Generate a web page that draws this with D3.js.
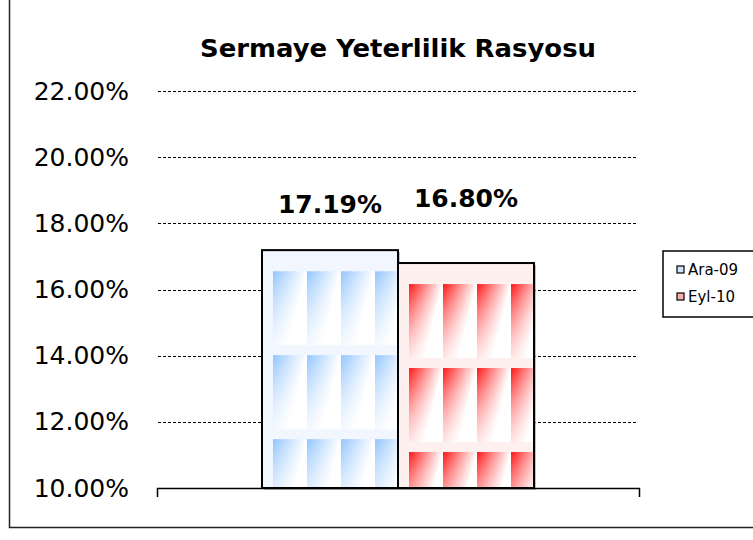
<!DOCTYPE html>
<html>
<head>
<meta charset="utf-8">
<script src="https://cdn.jsdelivr.net/npm/d3@7/dist/d3.min.js"></script>
<style>
  body { margin: 0; background: #fff; }
  text { font-family: "DejaVu Sans", Verdana, sans-serif; }
</style>
</head>
<body>
<svg id="chart" width="753" height="540"></svg>
<script>
// data
var category = ["Sermaye Yeterlilik Rasyosu"];
var series = ["Ara-09", "Eyl-10"];
var values = [17.19, 16.80];
var yTicks = [10, 12, 14, 16, 18, 20, 22];

var strong = ["#92c5ff", "#ff1414"];
var tint = ["#f2f7ff", "#fff0f0"];
var swatch = ["#cfe3fb", "#f6b0b0"];
var labelDy = [37, 56];

var svg = d3.select("#chart");
var W = 753, H = 540;

svg.append("rect").attr("width", W).attr("height", H).attr("fill", "#fff");

// outer frame (partly cut by the window)
svg.append("path")
    .attr("d", "M9.5,0V527.5H" + W)
    .attr("fill", "none")
    .attr("stroke", "#222")
    .attr("stroke-width", 1.5);

var y = d3.scaleLinear().domain([10, 22]).range([488, 91]);

var x0 = d3.scaleBand().domain(category).range([157, 639])
    .paddingInner(0).paddingOuter(0.386);
var x1 = d3.scaleBand().domain(series).range([0, x0.bandwidth()]);

// title
svg.append("text")
    .attr("x", (x0.range()[0] + x0.range()[1]) / 2)
    .attr("y", 57)
    .attr("text-anchor", "middle")
    .attr("textLength", 396)
    .attr("lengthAdjust", "spacingAndGlyphs")
    .style("font-size", "24px")
    .style("font-weight", "bold")
    .text(category[0]);

// dashed grid
svg.append("g").selectAll("line")
    .data(yTicks.filter(function(d){ return d > 10; }))
    .enter().append("line")
    .attr("x1", 158).attr("x2", 637)
    .attr("y1", function(d){ return Math.round(y(d)) + 0.5; })
    .attr("y2", function(d){ return Math.round(y(d)) + 0.5; })
    .attr("stroke", "#000")
    .attr("stroke-width", 1)
    .attr("stroke-dasharray", "3,2");

// y axis labels
var yAxis = d3.axisLeft(y).tickValues(yTicks).tickSize(0).tickPadding(28)
    .tickFormat(function(d){ return d.toFixed(2) + "%"; });
var gy = svg.append("g").attr("transform", "translate(157,0)").call(yAxis);
gy.select(".domain").remove();
gy.selectAll("text")
    .style("font-family", "'DejaVu Sans', Verdana, sans-serif")
    .style("font-size", "25px")
    .attr("fill", "#000");

// fill patterns, one per bar
var defs = svg.append("defs");
var fade = defs.append("linearGradient")
    .attr("id", "fadeV")
    .attr("x1", 0).attr("y1", 0).attr("x2", 0).attr("y2", 1);
fade.append("stop").attr("offset", 0).attr("stop-color", "#fff").attr("stop-opacity", 0);
fade.append("stop").attr("offset", 1).attr("stop-color", "#fff").attr("stop-opacity", 0.75);

series.forEach(function(s, i){
    var bx = x0(category[0]) + x1(s);
    var by = y(values[i]);
    var g = defs.append("linearGradient")
        .attr("id", "grad" + i)
        .attr("gradientUnits", "userSpaceOnUse")
        .attr("x1", 0).attr("y1", 0).attr("x2", 32).attr("y2", 8);
    g.append("stop").attr("offset", 0).attr("stop-color", strong[i]);
    g.append("stop").attr("offset", 1).attr("stop-color", "#fff");

    var p = defs.append("pattern")
        .attr("id", "pat" + i)
        .attr("patternUnits", "userSpaceOnUse")
        .attr("x", bx + 11).attr("y", by + 21)
        .attr("width", 34).attr("height", 84);
    p.append("rect").attr("width", 34).attr("height", 84).attr("fill", "url(#grad" + i + ")");
    p.append("rect").attr("width", 34).attr("height", 74).attr("fill", "url(#fadeV)");
    p.append("rect").attr("y", 74).attr("width", 34).attr("height", 10).attr("fill", tint[i]);
});

// bars
var bars = svg.append("g").selectAll("g.bar")
    .data(series)
    .enter().append("g").attr("class", "bar");

bars.append("rect")
    .attr("x", function(d){ return x0(category[0]) + x1(d) + 2; })
    .attr("y", function(d, i){ return y(values[i]) + 2; })
    .attr("width", x1.bandwidth())
    .attr("height", function(d, i){ return y(10) - y(values[i]); })
    .attr("fill", "#999")
    .attr("opacity", 0.6);

bars.append("rect")
    .attr("x", function(d){ return x0(category[0]) + x1(d); })
    .attr("y", function(d, i){ return y(values[i]); })
    .attr("width", x1.bandwidth())
    .attr("height", function(d, i){ return y(10) - y(values[i]); })
    .attr("fill", function(d, i){ return tint[i]; });

bars.append("rect")
    .attr("x", function(d){ return x0(category[0]) + x1(d) + 11; })
    .attr("y", function(d, i){ return y(values[i]) + 21; })
    .attr("width", x1.bandwidth() - 11)
    .attr("height", function(d, i){ return y(10) - y(values[i]) - 21; })
    .attr("fill", function(d, i){ return "url(#pat" + i + ")"; });

bars.append("rect")
    .attr("x", function(d){ return x0(category[0]) + x1(d); })
    .attr("y", function(d, i){ return y(values[i]); })
    .attr("width", x1.bandwidth())
    .attr("height", function(d, i){ return y(10) - y(values[i]); })
    .attr("fill", "none")
    .attr("stroke", "#000")
    .attr("stroke-width", 2);

// value labels
bars.append("text")
    .attr("x", function(d){ return x0(category[0]) + x1(d) + x1.bandwidth() / 2; })
    .attr("y", function(d, i){ return y(values[i]) - labelDy[i]; })
    .attr("text-anchor", "middle")
    .style("font-size", "25px")
    .style("font-weight", "bold")
    .text(function(d, i){ return values[i].toFixed(2) + "%"; });

// x axis: base line with end ticks
var xAxis = d3.axisBottom(x0).tickSizeInner(0).tickSizeOuter(9).tickFormat("");
var gx = svg.append("g").attr("transform", "translate(0,488)").call(xAxis);
gx.select(".domain").attr("stroke", "#000").attr("stroke-width", 1.5);

// legend
var leg = svg.append("g").attr("transform", "translate(663,251)");
leg.append("rect")
    .attr("width", 92).attr("height", 66)
    .attr("fill", "#fff").attr("stroke", "#000").attr("stroke-width", 1.5);
var li = leg.selectAll("g.item").data(series).enter().append("g")
    .attr("class", "item")
    .attr("transform", function(d, i){ return "translate(14," + (19 + i * 27) + ")"; });
li.append("rect")
    .attr("x", 0).attr("y", -4).attr("width", 7).attr("height", 7)
    .attr("fill", function(d, i){ return swatch[i]; })
    .attr("stroke", "#000").attr("stroke-width", 1.2);
li.append("text")
    .attr("x", 11).attr("y", 0).attr("dy", "0.35em")
    .style("font-size", "15px")
    .text(function(d){ return d; });
</script>
</body>
</html>
